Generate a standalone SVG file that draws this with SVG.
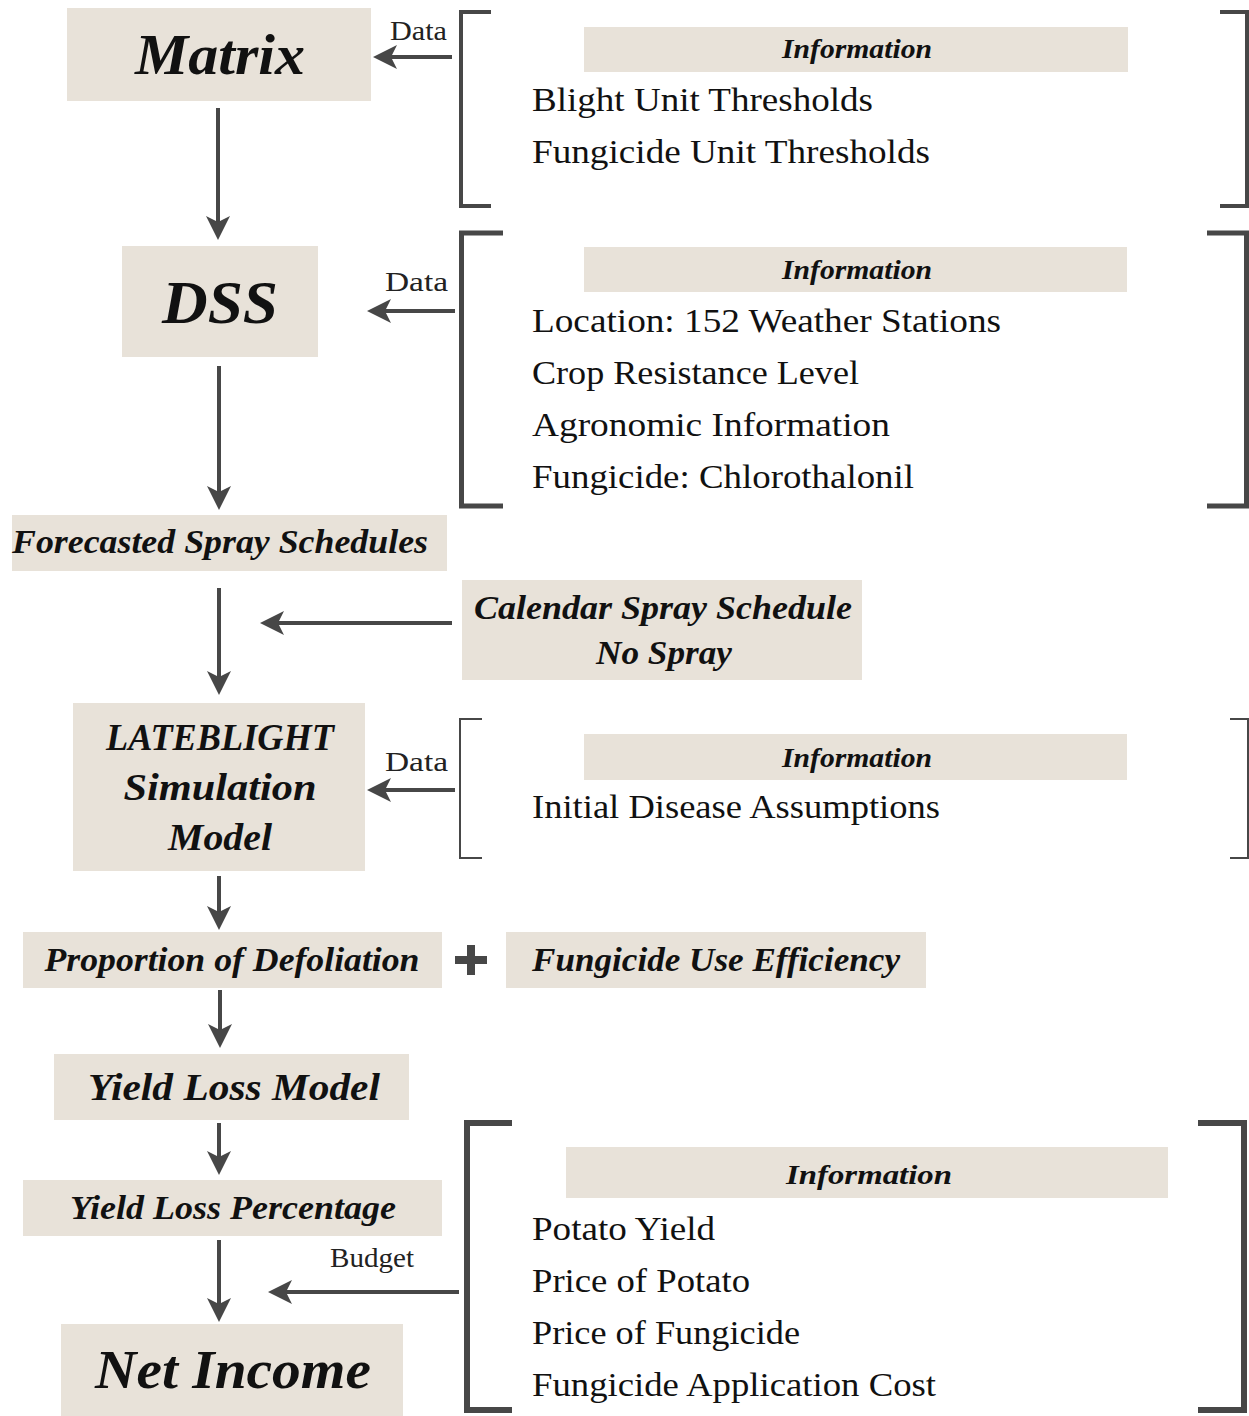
<svg xmlns="http://www.w3.org/2000/svg" width="1249" height="1416" viewBox="0 0 1249 1416">
<defs>
<style>
.box{fill:#e8e2d9}
.ln{stroke:#474747;stroke-width:4;fill:none}
.br{stroke:#474747;fill:none;stroke-linecap:butt}
.ti{font-family:"Liberation Serif",serif;font-style:italic;font-weight:bold;fill:#111;text-anchor:middle}
.tn{font-family:"Liberation Serif",serif;font-style:italic;font-weight:bold;fill:#111;text-anchor:middle}
.lab{font-family:"Liberation Serif",serif;fill:#222;font-size:27px}
.item{font-family:"Liberation Serif",serif;fill:#111;font-size:34px}
.info{font-family:"Liberation Serif",serif;font-style:italic;font-weight:bold;fill:#111;font-size:27px;text-anchor:middle}
</style>
<marker id="ah" markerWidth="6" markerHeight="6" refX="5" refY="3" orient="auto" markerUnits="strokeWidth">
<path d="M0,0 L6,3 L0,6 L1.5,3 Z" fill="#474747"/>
</marker>
</defs>
<rect width="1249" height="1416" fill="#fff"/>

<g id="connectors">
<line class="ln" x1="218" y1="108" x2="218" y2="236" marker-end="url(#ah)"/>
<line class="ln" x1="219" y1="366" x2="219" y2="506" marker-end="url(#ah)"/>
<line class="ln" x1="219" y1="588" x2="219" y2="691" marker-end="url(#ah)"/>
<line class="ln" x1="219" y1="876" x2="219" y2="926" marker-end="url(#ah)"/>
<line class="ln" x1="220" y1="990" x2="220" y2="1044" marker-end="url(#ah)"/>
<line class="ln" x1="219" y1="1123" x2="219" y2="1171" marker-end="url(#ah)"/>
<line class="ln" x1="219" y1="1240" x2="219" y2="1318" marker-end="url(#ah)"/>
<line class="ln" x1="452" y1="57" x2="377" y2="57" marker-end="url(#ah)"/>
<line class="ln" x1="455" y1="311" x2="371" y2="311" marker-end="url(#ah)"/>
<line class="ln" x1="452" y1="623" x2="264" y2="623" marker-end="url(#ah)"/>
<line class="ln" x1="455" y1="790" x2="371" y2="790" marker-end="url(#ah)"/>
<line class="ln" x1="459" y1="1292" x2="272" y2="1292" marker-end="url(#ah)"/>
<text class="lab" x="390" y="40" textLength="57" lengthAdjust="spacingAndGlyphs">Data</text>
<text class="lab" x="385" y="291" textLength="63" lengthAdjust="spacingAndGlyphs">Data</text>
<text class="lab" x="385" y="771" textLength="63" lengthAdjust="spacingAndGlyphs">Data</text>
<text class="lab" x="330" y="1267" textLength="84" lengthAdjust="spacingAndGlyphs">Budget</text>
</g>

<g id="matrix">
<rect class="box" x="67" y="8" width="304" height="93"/>
<text class="ti" x="220" y="74" font-size="57" textLength="170" lengthAdjust="spacingAndGlyphs">Matrix</text>
</g>

<g id="info1">
<path class="br" stroke-width="4" d="M491,12 H461 V206 H491"/>
<path class="br" stroke-width="4" d="M1220,12 H1247 V206 H1220"/>
<rect class="box" x="584" y="27" width="544" height="45"/>
<text class="info" x="857" y="58" textLength="150" lengthAdjust="spacingAndGlyphs">Information</text>
<text class="item" x="532" y="111" textLength="341" lengthAdjust="spacingAndGlyphs">Blight Unit Thresholds</text>
<text class="item" x="532" y="163" textLength="398" lengthAdjust="spacingAndGlyphs">Fungicide Unit Thresholds</text>
</g>

<g id="dss">
<rect class="box" x="122" y="246" width="196" height="111"/>
<text class="ti" x="220" y="323" font-size="62" textLength="116" lengthAdjust="spacingAndGlyphs">DSS</text>
</g>

<g id="info2">
<path class="br" stroke-width="5" d="M503,233 H461.5 V506 H503"/>
<path class="br" stroke-width="5" d="M1207,233 H1246.5 V506 H1207"/>
<rect class="box" x="584" y="247" width="543" height="45"/>
<text class="info" x="857" y="279" textLength="150" lengthAdjust="spacingAndGlyphs">Information</text>
<text class="item" x="532" y="332" textLength="469" lengthAdjust="spacingAndGlyphs">Location: 152 Weather Stations</text>
<text class="item" x="532" y="384" textLength="327" lengthAdjust="spacingAndGlyphs">Crop Resistance Level</text>
<text class="item" x="532" y="436" textLength="358" lengthAdjust="spacingAndGlyphs">Agronomic Information</text>
<text class="item" x="532" y="488" textLength="382" lengthAdjust="spacingAndGlyphs">Fungicide: Chlorothalonil</text>
</g>

<g id="forecasted">
<rect class="box" x="12" y="515" width="435" height="56"/>
<text class="tn" x="220" y="553" font-size="33" textLength="416" lengthAdjust="spacingAndGlyphs">Forecasted Spray Schedules</text>
</g>

<g id="calendar">
<rect class="box" x="462" y="580" width="400" height="100"/>
<text class="tn" x="663" y="619" font-size="33" textLength="378" lengthAdjust="spacingAndGlyphs">Calendar Spray Schedule</text>
<text class="tn" x="664" y="664" font-size="33" textLength="136" lengthAdjust="spacingAndGlyphs">No Spray</text>
</g>

<g id="lateblight">
<rect class="box" x="73" y="703" width="292" height="168"/>
<text class="ti" x="220" y="750" font-size="38" textLength="228" lengthAdjust="spacingAndGlyphs">LATEBLIGHT</text>
<text class="ti" x="220" y="800" font-size="38" textLength="193" lengthAdjust="spacingAndGlyphs">Simulation</text>
<text class="ti" x="220" y="850" font-size="38" textLength="104" lengthAdjust="spacingAndGlyphs">Model</text>
</g>

<g id="info3">
<path class="br" stroke-width="2" d="M482,719 H460 V858 H482"/>
<path class="br" stroke-width="2" d="M1230,719 H1248 V858 H1230"/>
<rect class="box" x="584" y="734" width="543" height="46"/>
<text class="info" x="857" y="767" textLength="150" lengthAdjust="spacingAndGlyphs">Information</text>
<text class="item" x="532" y="818" textLength="408" lengthAdjust="spacingAndGlyphs">Initial Disease Assumptions</text>
</g>

<g id="defoliation">
<rect class="box" x="23" y="932" width="419" height="56"/>
<text class="tn" x="232" y="971" font-size="33" textLength="375" lengthAdjust="spacingAndGlyphs">Proportion of Defoliation</text>
</g>

<g id="plus">
<rect x="467" y="945" width="8" height="30" fill="#474747"/>
<rect x="455" y="956" width="32" height="8" fill="#474747"/>
</g>

<g id="efficiency">
<rect class="box" x="506" y="932" width="420" height="56"/>
<text class="tn" x="716" y="971" font-size="33" textLength="368" lengthAdjust="spacingAndGlyphs">Fungicide Use Efficiency</text>
</g>

<g id="yieldmodel">
<rect class="box" x="54" y="1054" width="355" height="66"/>
<text class="tn" x="234" y="1100" font-size="38" textLength="292" lengthAdjust="spacingAndGlyphs">Yield Loss Model</text>
</g>

<g id="yieldpct">
<rect class="box" x="23" y="1180" width="419" height="56"/>
<text class="tn" x="233" y="1219" font-size="33" textLength="326" lengthAdjust="spacingAndGlyphs">Yield Loss Percentage</text>
</g>

<g id="netincome">
<rect class="box" x="61" y="1324" width="342" height="92"/>
<text class="ti" x="233" y="1388" font-size="54" textLength="276" lengthAdjust="spacingAndGlyphs">Net Income</text>
</g>

<g id="info4">
<path class="br" stroke-width="6" d="M512,1123 H467 V1410 H512"/>
<path class="br" stroke-width="6" d="M1198,1123 H1244 V1410 H1198"/>
<rect class="box" x="566" y="1147" width="602" height="51"/>
<text class="info" x="869" y="1184" font-size="29" textLength="166" lengthAdjust="spacingAndGlyphs">Information</text>
<text class="item" x="532" y="1240" textLength="183" lengthAdjust="spacingAndGlyphs">Potato Yield</text>
<text class="item" x="532" y="1292" textLength="218" lengthAdjust="spacingAndGlyphs">Price of Potato</text>
<text class="item" x="532" y="1344" textLength="268" lengthAdjust="spacingAndGlyphs">Price of Fungicide</text>
<text class="item" x="532" y="1396" textLength="404" lengthAdjust="spacingAndGlyphs">Fungicide Application Cost</text>
</g>
</svg>
